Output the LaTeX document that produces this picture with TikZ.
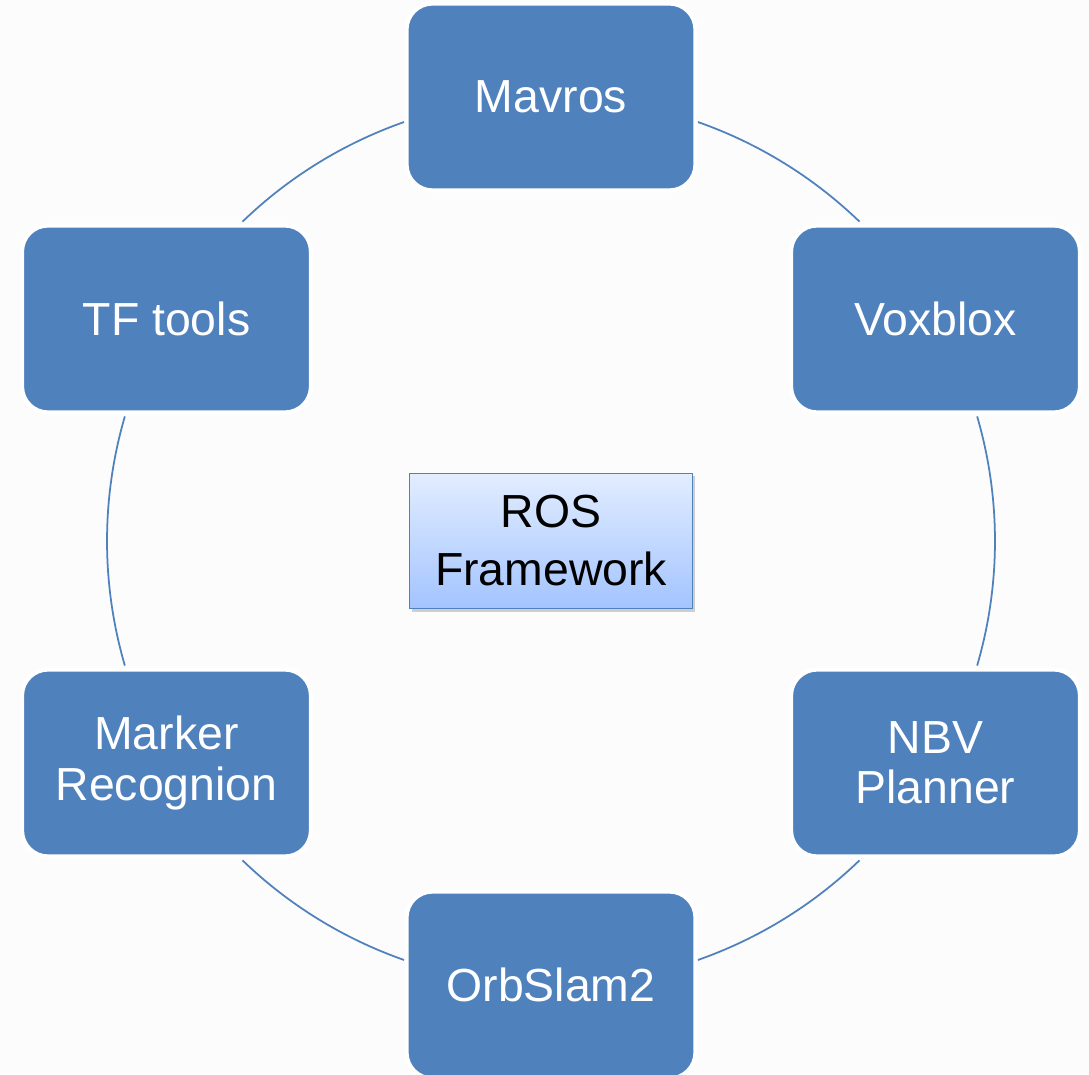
\documentclass[tikz,border=0pt]{standalone}
\usepackage{fontspec}
\setmainfont{Liberation Sans}
\usetikzlibrary{shadows}
\definecolor{accent}{RGB}{79,129,189}
\definecolor{paper}{RGB}{252,252,252}
\definecolor{gradtop}{RGB}{226,237,255}
\definecolor{gradbot}{RGB}{163,196,255}

\begin{document}
\begin{tikzpicture}[module/.style={rectangle, rounded corners=.26cm, fill=accent, draw=white, line width=1.2pt,
		minimum width=2.89cm, minimum height=1.87cm, text=white, align=center,
		font=\fontsize{13.2}{14.3}\selectfont},
	core/.style={rectangle, draw=accent, line width=.5pt, top color=gradtop, bottom color=gradbot,
		minimum width=2.83cm, minimum height=1.35cm, align=center, text=black,
		font=\fontsize{13.2}{16.5}\selectfont,
		drop shadow={shadow xshift=.02cm, shadow yshift=-.03cm, opacity=.3, fill=black!60}},
	link/.style={accent, line width=.5pt}]

\fill[paper] (-5.51,-5.33) rectangle (5.38,5.41);
\useasboundingbox (-5.51,-5.33) rectangle (5.38,5.41);
\coordinate (hub) at (0,0);

% ring between the modules
\draw[link] (hub) ++(70.7:4.44) arc[start angle=70.7, end angle=46, radius=4.44cm];
\draw[link] (hub) ++(16.3:4.44) arc[start angle=16.3, end angle=-16.3, radius=4.44cm];
\draw[link] (hub) ++(-46:4.44) arc[start angle=-46, end angle=-70.7, radius=4.44cm];
\draw[link] (hub) ++(-109.3:4.44) arc[start angle=-109.3, end angle=-134, radius=4.44cm];
\draw[link] (hub) ++(-163.7:4.44) arc[start angle=-163.7, end angle=-196.3, radius=4.44cm];
\draw[link] (hub) ++(134:4.44) arc[start angle=134, end angle=109.3, radius=4.44cm];

\node[module] (mavros) at (90:4.44) {Mavros};
\node[module] (voxblox) at (30:4.44) {Voxblox};
\node[module] (nbv) at (-30:4.44) {NBV\\Planner};
\node[module] (orbslam) at (-90:4.44) {OrbSlam2};
\node[module] (marker) at (210:4.44) {Marker\\Recognion};
\node[module] (tftools) at (150:4.44) {TF tools};

\node[core] (ros) at (hub) {ROS\\Framework};
\end{tikzpicture}
\end{document}
